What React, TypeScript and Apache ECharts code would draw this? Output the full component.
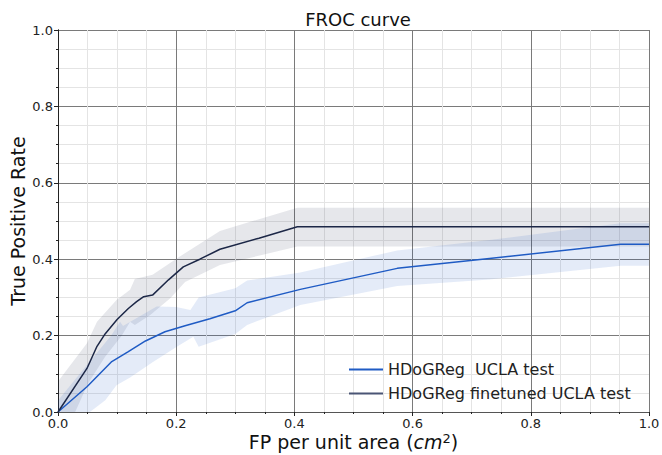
import React, { useEffect, useRef } from "react";
import * as echarts from "echarts";

const xTicks = [0, 0.2, 0.4, 0.6, 0.8, 1.0];
const yTicks = [0, 0.2, 0.4, 0.6, 0.8, 1.0];

const seriesNames = ["HDoGReg  UCLA test", "HDoGReg finetuned UCLA test"];

const blueCurve: number[][] = [
  [0, 0], [0.049, 0.066], [0.091, 0.132], [0.119, 0.158], [0.148, 0.186],
  [0.181, 0.21], [0.215, 0.226], [0.257, 0.244], [0.3, 0.265], [0.32, 0.286],
  [0.41, 0.321], [0.574, 0.376], [0.73, 0.402], [0.952, 0.439], [1.0, 0.439],
];
const blueUpper: number[][] = [
  [0, 0.03], [0.05, 0.125], [0.09, 0.2], [0.105, 0.236], [0.11, 0.225],
  [0.167, 0.276], [0.2, 0.275], [0.224, 0.267], [0.238, 0.3], [0.3, 0.324],
  [0.32, 0.344], [0.41, 0.365], [0.574, 0.423], [0.73, 0.45], [0.952, 0.494], [1.0, 0.494],
];
const blueLower: number[][] = [
  [0, 0], [0.054, 0], [0.08, 0.031], [0.099, 0.07], [0.122, 0.09], [0.16, 0.13],
  [0.201, 0.171], [0.229, 0.197], [0.238, 0.171], [0.3, 0.204], [0.32, 0.228],
  [0.41, 0.28], [0.574, 0.33], [0.73, 0.347], [0.952, 0.383], [1.0, 0.383],
];

const darkCurve: number[][] = [
  [0, 0], [0.049, 0.114], [0.066, 0.172], [0.08, 0.205], [0.1, 0.242],
  [0.119, 0.271], [0.133, 0.289], [0.145, 0.302], [0.16, 0.306], [0.187, 0.346],
  [0.212, 0.38], [0.24, 0.4], [0.274, 0.426], [0.34, 0.455], [0.405, 0.485], [1.0, 0.485],
];
const darkUpper: number[][] = [
  [0, 0.08], [0.049, 0.18], [0.066, 0.236], [0.099, 0.293], [0.122, 0.32],
  [0.13, 0.348], [0.16, 0.359], [0.201, 0.402], [0.274, 0.474], [0.405, 0.535], [1.0, 0.535],
];
const darkLower: number[][] = [
  [0, 0], [0.029, 0], [0.051, 0.075], [0.08, 0.145], [0.108, 0.2], [0.122, 0.236],
  [0.13, 0.228], [0.156, 0.254], [0.19, 0.298], [0.215, 0.34], [0.274, 0.385],
  [0.405, 0.433], [1.0, 0.433],
];

const BLUE = "#1f5bc4";
const NAVY = "#1c2747";
const FONT = "DejaVu Sans";

function band(upper: number[][], lower: number[][], fill: string, z: number) {
  return {
    type: "custom",
    silent: true,
    z,
    data: [[0, 0]],
    renderItem: (_params: any, api: any) => {
      const pts = upper.map((p) => api.coord(p)).concat(
        lower.slice().reverse().map((p) => api.coord(p))
      );
      return { type: "polygon", shape: { points: pts }, style: { fill } };
    },
  };
}

const fmt = (v: number) => v.toFixed(1);

export default function App() {
  const ref = useRef<HTMLDivElement>(null);
  useEffect(() => {
    if (!ref.current) return;
    const chart = echarts.init(ref.current, undefined, { renderer: "svg" });
    const axisCommon = {
      type: "value",
      min: 0,
      max: 1,
      interval: 0.2,
      axisLine: { show: true, lineStyle: { color: "#222", width: 1 } },
      axisTick: { show: true, inside: false, length: 4, lineStyle: { color: "#222" } },
      minorTick: { show: true, splitNumber: 4, length: 2, lineStyle: { color: "#222" } },
      splitLine: { show: true, lineStyle: { color: "#7a7a7a", width: 1 } },
      minorSplitLine: { show: true, lineStyle: { color: "#e4e4e4", width: 1 } },
      axisLabel: { formatter: fmt, color: "#222", fontFamily: FONT, fontSize: 13, margin: 5 },
    };
    chart.setOption({
      animation: false,
      backgroundColor: "#fff",
      title: {
        text: "FROC curve",
        left: 353,
        textAlign: "center",
        top: 5,
        textStyle: { fontFamily: FONT, fontSize: 18, fontWeight: "normal", color: "#111" },
      },
      grid: { left: 58, right: 13, top: 30, bottom: 43, outerBoundsMode: "none", containLabel: false },
      legend: {
        orient: "vertical",
        left: 344,
        top: 355,
        itemWidth: 34,
        itemHeight: 2,
        itemGap: 5,
        icon: "rect",
        textStyle: { fontFamily: FONT, fontSize: 16, color: "#222", lineHeight: 19 },
        data: seriesNames,
      },
      xAxis: [
        {
          ...axisCommon,
          name: "FP per unit area ({i|cm}{s|2})",
          nameLocation: "middle",
          nameGap: 20,
          nameMoveOverlap: false,
          nameTextStyle: {
            fontFamily: FONT,
            fontSize: 19,
            lineHeight: 20,
            color: "#111",
            rich: {
              i: { fontFamily: FONT, fontStyle: "italic", fontSize: 19, lineHeight: 20, color: "#111" },
              s: { fontFamily: FONT, fontSize: 13, lineHeight: 20, color: "#111", verticalAlign: "top", padding: [0, 0, 6, 0] },
            },
          },
        },
        {
          type: "value",
          position: "top",
          min: 0,
          max: 1,
          axisLine: { show: true, lineStyle: { color: "#555" } },
          axisTick: { show: false },
          axisLabel: { show: false },
          splitLine: { show: false },
        },
      ],
      yAxis: [
        {
          ...axisCommon,
          name: "True Positive Rate",
          nameLocation: "middle",
          nameGap: 31,
          nameMoveOverlap: false,
          nameTextStyle: { fontFamily: FONT, fontSize: 19, color: "#111" },
        },
        {
          type: "value",
          position: "right",
          min: 0,
          max: 1,
          axisLine: { show: true, lineStyle: { color: "#222" } },
          axisTick: { show: false },
          axisLabel: { show: false },
          splitLine: { show: false },
        },
      ],
      series: [
        band(darkUpper, darkLower, "rgba(28,39,71,0.11)", 1),
        band(blueUpper, blueLower, "rgba(31,91,196,0.12)", 1),
        {
          name: seriesNames[0],
          type: "line",
          data: blueCurve,
          showSymbol: false,
          symbol: "none",
          z: 3,
          itemStyle: { color: BLUE },
          lineStyle: { color: BLUE, width: 1.5 },
        },
        {
          name: seriesNames[1],
          type: "line",
          data: darkCurve,
          showSymbol: false,
          symbol: "none",
          z: 3,
          itemStyle: { color: "#4a5575" },
          lineStyle: { color: NAVY, width: 1.5 },
        },
      ],
    });
    return () => chart.dispose();
  }, []);
  return <div ref={ref} style={{ width: 662, height: 455, position: "absolute", left: 0, top: 0 }} />;
}
